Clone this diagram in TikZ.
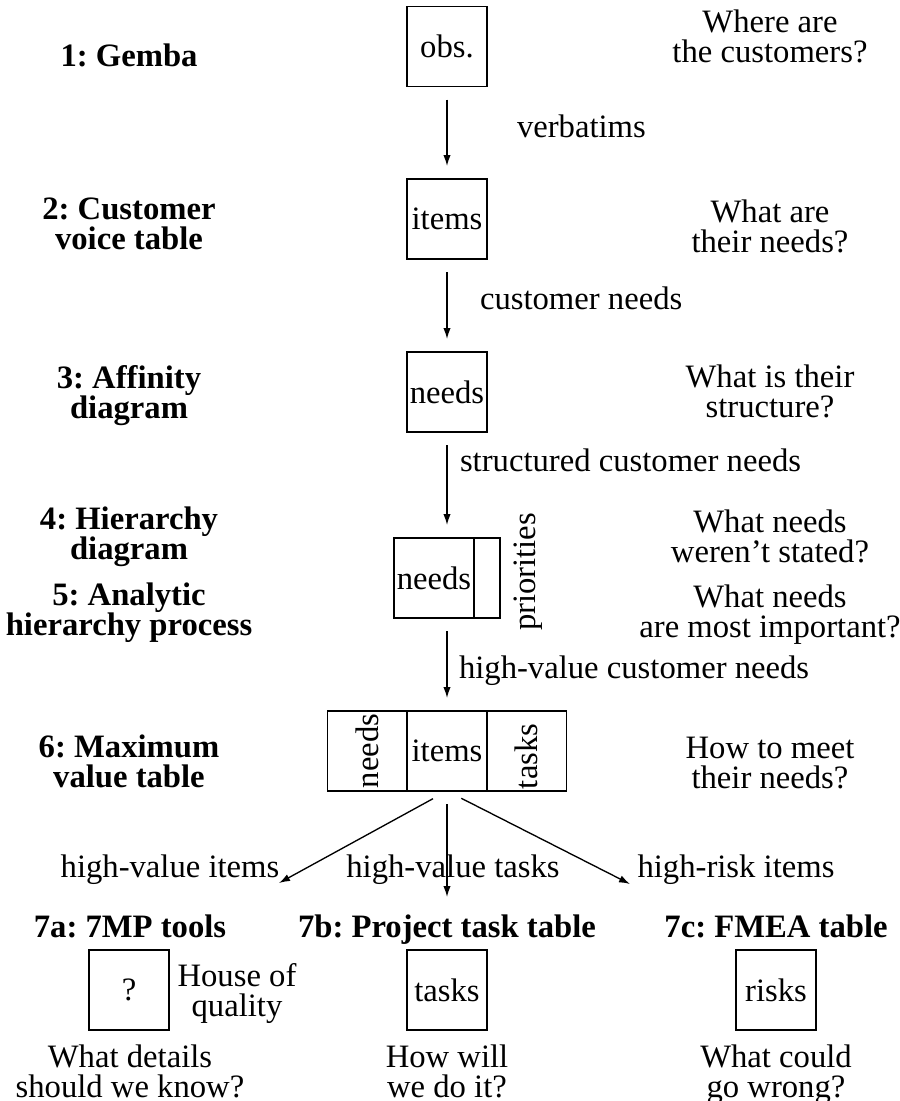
\documentclass[tikz,border=0pt]{standalone}
\usepackage{fontspec}
\setmainfont{Liberation Serif}
\usetikzlibrary{arrows.meta}
\frenchspacing
\begin{document}
\begin{tikzpicture}[x=0.3pt,y=-0.3pt,
  every node/.style={inner sep=0pt, outer sep=0pt, font=\fontsize{9.8pt}{9pt}\selectfont},
  stage/.style={align=center, anchor=north, font=\fontsize{9.8pt}{9pt}\selectfont\bfseries},
  question/.style={align=center, anchor=north},
  cell/.style={draw, line width=0.4pt, minimum width=24pt, minimum height=24pt},
  flow/.style={line width=0.4pt, -{Latex[length=3.3pt,width=2.2pt]}, shorten <=3.9pt, shorten >=3.9pt},
  flowlabel/.style={anchor=base west},
  branch/.style={line width=0.4pt, -{Latex[length=3.3pt,width=2.2pt]}, shorten <=4.8pt},
]
\useasboundingbox (0,0) rectangle (899,1101);

% stage 1
\node[stage] (s1) at (129,44) {1: Gemba};
\node[cell] (obs) at (447,46.5) {obs.};
\node[question] (q1) at (770,10) {Where are\\the customers?};

% stage 2
\node[stage] (s2) at (129,198) {2: Customer\\voice table};
\node[cell] (items) at (447,219) {items};
\node[question] (q2) at (770,200) {What are\\their needs?};

% stage 3
\node[stage] (s3) at (129,365) {3: Affinity\\diagram};
\node[cell] (needsA) at (447,392) {needs};
\node[question] (q3) at (770,365) {What is their\\structure?};

% stages 4 and 5
\node[stage] (s4) at (129,507) {4: Hierarchy\\diagram};
\node[stage] (s5) at (129,583) {5: Analytic\\hierarchy process};
\node[cell] (needsP) at (434,578) {needs};
\node[draw, line width=0.4pt, minimum width=7.8pt, minimum height=24pt, anchor=west] (prio) at (needsP.east) {};
\node[rotate=90] (prioLabel) at (528,572) {priorities};
\node[question] (q4) at (770,510) {What needs\\weren’t stated?};
\node[question] (q5) at (770,585) {What needs\\are most important?};

% stage 6
\node[stage] (s6) at (129,735) {6: Maximum\\value table};
\node[cell, rotate=90] (tNeeds) at (367.5,751) {needs};
\node[cell] (tItems) at (447,751) {items};
\node[cell] (tTasks) at (526.5,751) {};
\node[rotate=90, anchor=west] (tTasksText) at (526.5,789) {tasks};
\node[question] (q6) at (770,737) {How to meet\\their needs?};

% main flow
\draw[flow] (obs) -- (items);
\draw[flow] (items) -- (needsA);
\draw[flow] (needsA) -- (needsA.south |- needsP.north);
\draw[flow] (needsA.south |- needsP.south) -- (tItems);

\node[flowlabel] (l1) at (517,137) {verbatims};
\node[flowlabel] (l2) at (480,309) {customer needs};
\node[flowlabel] (l3) at (460,471) {structured customer needs};
\node[flowlabel] (l4) at (459,678) {high-value customer needs};

% branches
\coordinate (endA) at (279,883);
\coordinate (endB) at (447,897);
\coordinate (endC) at (630,884);
\draw[branch] (tItems.south) -- (endA);
\draw[branch, shorten <=3.9pt] (tItems.south) -- (endB);
\draw[branch] (tItems.south) -- (endC);

\node[anchor=base] (lA) at (170,877) {high-value items};
\node[anchor=base] (lB) at (453,877) {high-value tasks};
\node[anchor=base] (lC) at (736,877) {high-risk items};

% stage 7
\node[stage] (t7a) at (130,915) {7a: 7MP tools};
\node[stage] (t7b) at (447,915) {7b: Project task table};
\node[stage] (t7c) at (776,915) {7c: FMEA table};

\node[cell] (qa) at (129,990) {?};
\node[cell] (tasksB) at (447,990) {tasks};
\node[cell] (risks) at (776,990) {risks};
\node[question] (hoq) at (237,963) {House of\\quality};

\node[question] (qa2) at (130,1045) {What details\\should we know?};
\node[question] (qb2) at (447,1045) {How will\\we do it?};
\node[question] (qc2) at (776,1045) {What could\\go wrong?};
\end{tikzpicture}
\end{document}
